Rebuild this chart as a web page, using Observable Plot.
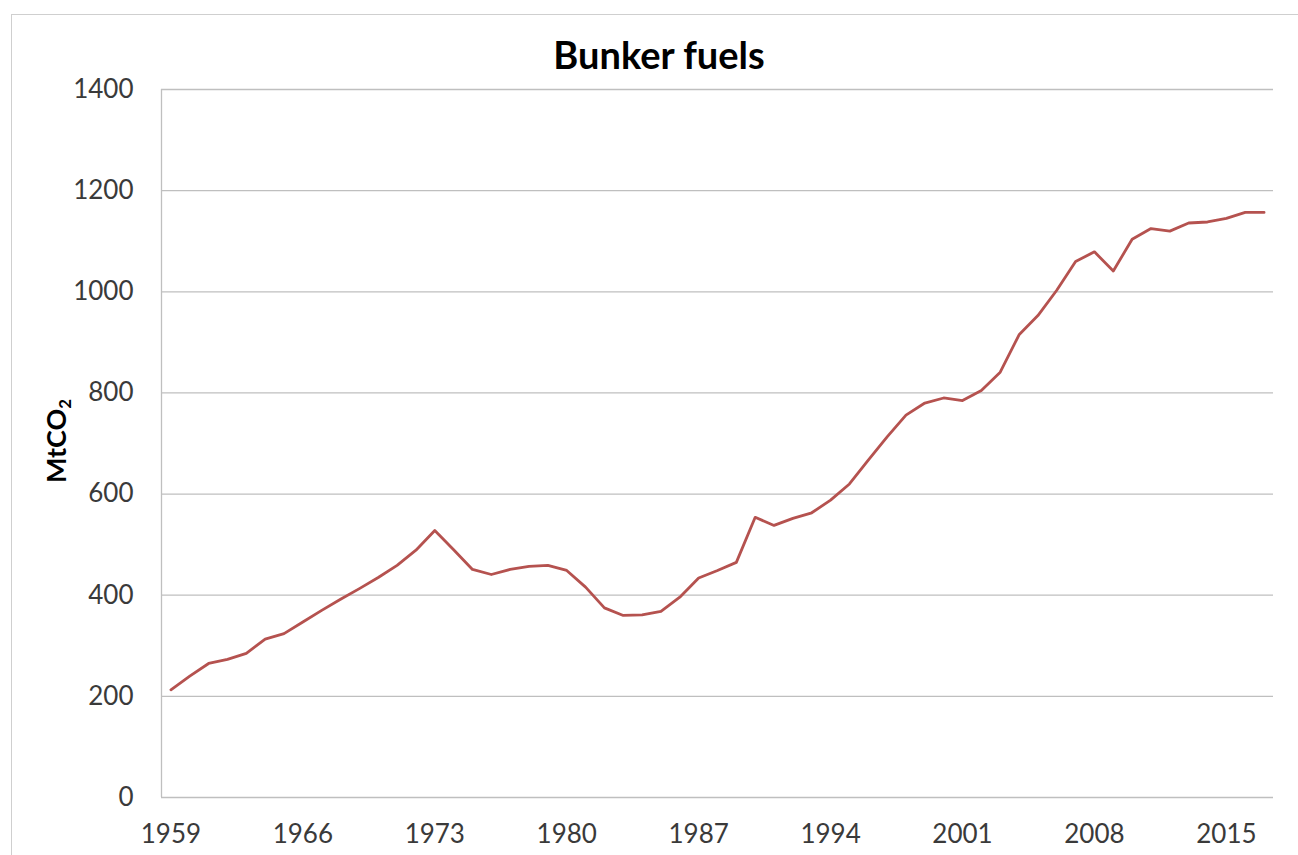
<!DOCTYPE html>
<html>
<head>
<meta charset="utf-8">
<script src="https://cdn.jsdelivr.net/npm/d3@7"></script>
<script src="https://cdn.jsdelivr.net/npm/@observablehq/plot@0.6"></script>
<style>
  html, body { margin: 0; padding: 0; background: #fff; }
  #wrap { position: relative; width: 1298px; height: 855px; overflow: hidden; font-family: Lato, "Open Sans", sans-serif; }
  #frame { position: absolute; left: 11px; top: 14px; width: 1300px; height: 900px; border: 1px solid #cfcfcf; box-sizing: border-box; }
  #title { position: absolute; left: 0; width: 1318px; top: 32px; text-align: center; font-size: 38px; font-weight: bold; color: #000; line-height: 44px; }
  #ylabel { position: absolute; left: 57px; top: 441px; transform: translate(-50%, -50%) rotate(-90deg); font-size: 27px; font-weight: bold; color: #000; white-space: nowrap; }
  #ylabel sub { font-size: 0.62em; vertical-align: -0.25em; }
  #chart { position: absolute; left: 0; top: 0; }
</style>
</head>
<body>
<div id="wrap">
  <div id="frame"></div>
  <div id="chart"></div>
  <div id="title">Bunker fuels</div>
  <div id="ylabel">MtCO<sub>2</sub></div>
</div>
<script>
const years = [1959,1960,1961,1962,1963,1964,1965,1966,1967,1968,1969,1970,1971,1972,1973,1974,1975,1976,1977,1978,1979,1980,1981,1982,1983,1984,1985,1986,1987,1988,1989,1990,1991,1992,1993,1994,1995,1996,1997,1998,1999,2000,2001,2002,2003,2004,2005,2006,2007,2008,2009,2010,2011,2012,2013,2014,2015,2016,2017];
const emissions = [213,240,265,273,285,313,324,347,370,392,413,435,459,489,528,490,451,441,451,457,459,449,416,375,360,361,368,396,434,449,465,554,538,552,563,588,620,667,713,756,780,790,785,805,841,915,953,1003,1060,1079,1041,1104,1125,1120,1136,1138,1145,1157,1157];
const xTicks = [1959,1966,1973,1980,1987,1994,2001,2008,2015];
const yTicks = [0,200,400,600,800,1000,1200,1400];

const data = years.map((y, i) => ({year: y, value: emissions[i]}));
const xDomain = [years[0] - 0.5, years[years.length - 1] + 0.5];

const chart = Plot.plot({
  width: 1298,
  height: 855,
  marginLeft: 161,
  marginRight: 25,
  marginTop: 89,
  marginBottom: 58,
  style: { fontFamily: "Lato, 'Open Sans', sans-serif", fontSize: "26px", color: "#3a3a3a", background: "transparent", overflow: "visible" },
  x: { domain: xDomain },
  y: { domain: [0, 1400] },
  marks: [
    Plot.gridY(yTicks, { stroke: "#bfbfbf", strokeOpacity: 1, strokeWidth: 1.3 }),
    Plot.ruleX([xDomain[0]], { stroke: "#bfbfbf", strokeWidth: 1.3 }),
    Plot.axisY(yTicks, { tickSize: 0, tickPadding: 28, label: null, tickFormat: d => String(d), fill: "#3a3a3a", fontSize: 26 }),
    Plot.axisX(xTicks, { tickSize: 0, tickPadding: 27, label: null, tickFormat: d => String(d), fill: "#3a3a3a", fontSize: 26 }),
    Plot.line(data, { x: "year", y: "value", stroke: "#b5524f", strokeWidth: 2.8, strokeLinejoin: "round" })
  ]
});
document.getElementById("chart").appendChild(chart);
</script>
</body>
</html>
